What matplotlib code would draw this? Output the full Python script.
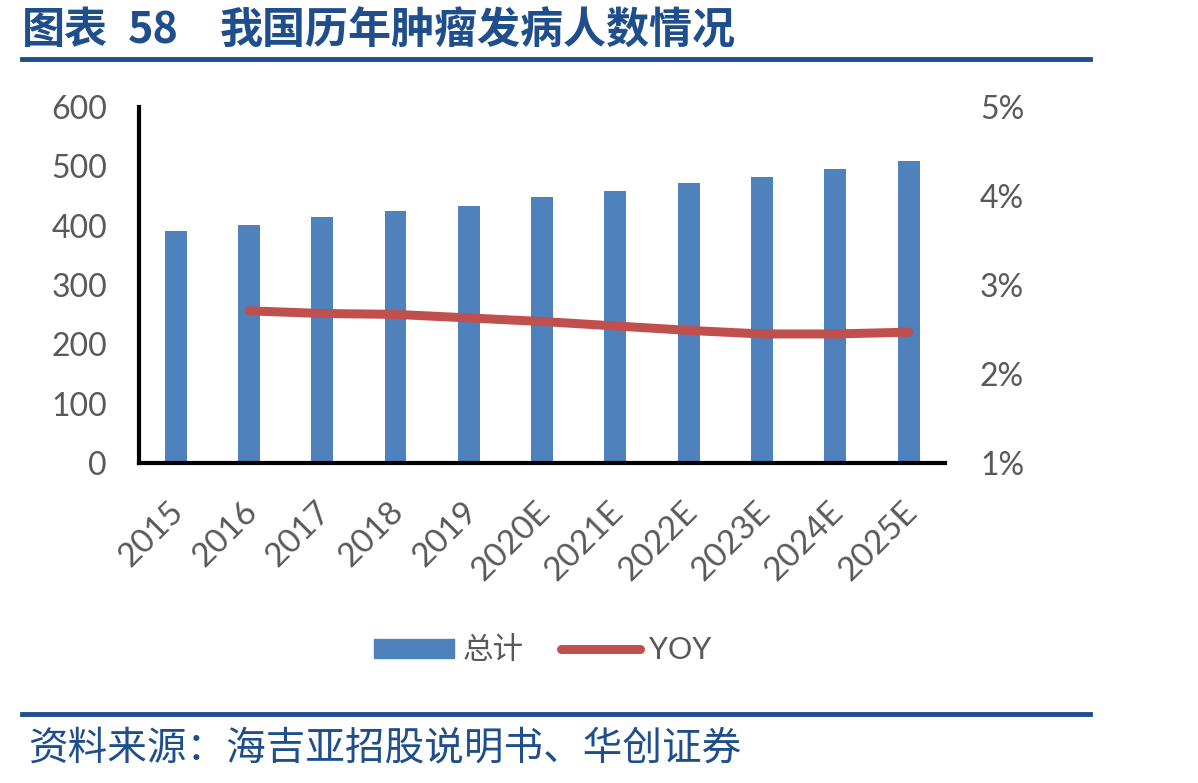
import matplotlib
matplotlib.use('Agg')
import matplotlib.pyplot as plt
import matplotlib.transforms as mtransforms
from matplotlib.lines import Line2D
from matplotlib.patches import Patch

plt.rcParams['font.family'] = ['Lato', 'Noto Sans CJK SC', 'DejaVu Sans']

# data
years = ['2015', '2016', '2017', '2018', '2019', '2020E', '2021E',
         '2022E', '2023E', '2024E', '2025E']
total = [391, 401, 414, 424, 434, 448, 458, 472, 482, 495, 509]
yoy_years = years[1:]
yoy = [2.71, 2.68, 2.67, 2.63, 2.59, 2.54, 2.49, 2.45, 2.45, 2.47]

blue = '#4f81bd'
red = '#c0504d'
grey = '#595959'
navy = '#1f4e8c'

fig = plt.figure(figsize=(11.98, 7.83), dpi=100)
ax = fig.add_axes([0.116, 0.4087, 0.673, 0.4546])

x = list(range(len(years)))
ax.bar(x, total, width=0.3, color=blue, zorder=2)
ax.set_xlim(-0.5, len(years) - 0.5)
ax.set_ylim(0, 600)
ax.set_yticks(range(0, 601, 100))
ax.tick_params(axis='y', length=0, pad=23, labelsize=23, labelcolor=grey)
ax.tick_params(axis='x', length=0, pad=24, labelsize=24, labelcolor=grey)
ax.set_xticks(x)
ax.set_xticklabels(years, rotation=45, ha='right', va='top', rotation_mode='anchor')
shift = mtransforms.ScaledTranslation(-0.07, 0, fig.dpi_scale_trans)
for lab in ax.get_xticklabels():
    lab.set_transform(lab.get_transform() + shift)
for s in ['top', 'right']:
    ax.spines[s].set_visible(False)
for s in ['left', 'bottom']:
    ax.spines[s].set_linewidth(3)
    ax.spines[s].set_color('black')

ax2 = ax.twinx()
xi = [years.index(y) for y in yoy_years]
ax2.plot(xi, yoy, color=red, lw=6.5, solid_capstyle='round', zorder=3)
ax2.set_ylim(1, 5)
ax2.set_yticks([1, 2, 3, 4, 5])
ax2.set_yticklabels([f'{v}%' for v in [1, 2, 3, 4, 5]])
ax2.tick_params(axis='y', length=0, pad=25, labelsize=23, labelcolor=grey)
for s in ['top', 'right', 'left', 'bottom']:
    ax2.spines[s].set_visible(False)

handles = [Patch(color=blue, label='总计'),
           Line2D([0], [0], color=red, lw=6.5, solid_capstyle='round', label='YOY')]
fig.legend(handles=handles, loc='center', bbox_to_anchor=(543 / 1198, 1 - 650 / 783),
           ncol=2, frameon=False, fontsize=22, labelcolor=grey,
           handlelength=2.6, handleheight=0.6, columnspacing=1.2, handletextpad=0.3)

# title and rules
title_kw = dict(fontsize=31, fontweight='bold', color=navy, va='center', ha='left',
                family=['Noto Sans CJK SC'])
fig.text(22 / 1198, 1 - 30 / 783, '图表', **title_kw)
fig.text(128 / 1198, 1 - 30 / 783, '58', **title_kw)
fig.text(220 / 1198, 1 - 30 / 783, '我国历年肿瘤发病人数情况', **title_kw)
fig.add_artist(Line2D([22 / 1198, 1090 / 1198], [1 - 59 / 783] * 2, color=navy, lw=3.5))
fig.add_artist(Line2D([22 / 1198, 1090 / 1198], [1 - 714 / 783] * 2, color=navy, lw=3.5))
fig.text(28 / 1198, 1 - 748 / 783, '资料来源：海吉亚招股说明书、华创证券',
         fontsize=28.5, color=navy, va='center', ha='left', style='italic',
         family=['Noto Sans CJK SC'])

fig.savefig('out.png', dpi=100)
